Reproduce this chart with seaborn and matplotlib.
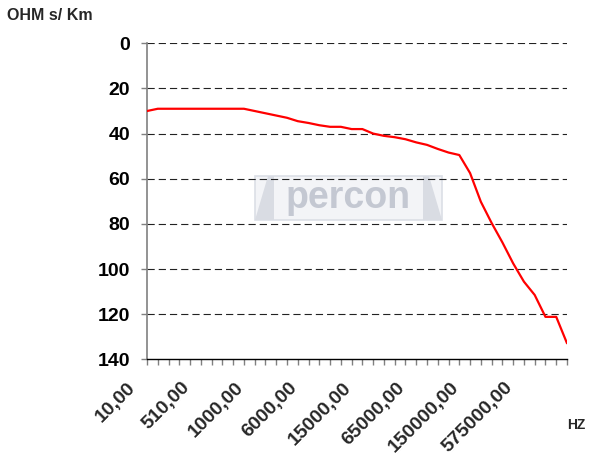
import numpy as np
import pandas as pd
import matplotlib
matplotlib.use("Agg")
import matplotlib.pyplot as plt
import matplotlib.transforms as mtransforms
from matplotlib.patches import Rectangle, Polygon
import seaborn as sns

# ---- data ----
# 40 frequency points; only every 5th point carries a visible label
shown_labels = ["10,00", "510,00", "1000,00", "6000,00", "15000,00",
                "65000,00", "150000,00", "575000,00"]
label_step = 5
ohm_values = [30, 29, 29, 29, 29, 29, 29, 29, 29, 29,
              30, 31, 32, 33, 34.5, 35.3, 36.3, 37, 37, 38,
              38, 40, 41, 41.6, 42.5, 43.9, 45, 46.8, 48.4, 49.5,
              57.5, 70.2, 79.6, 88.2, 97.5, 105.6, 111.5, 121.2, 121.2, 132.9]
y_ticks = [0, 20, 40, 60, 80, 100, 120, 140]
y_label = "OHM s/ Km"
x_label = "HZ"

df = pd.DataFrame({"pos": np.arange(len(ohm_values)), "ohm": ohm_values})

sns.set_theme(style="white")
plt.rcParams["font.family"] = ["Liberation Sans", "DejaVu Sans"]

fig = plt.figure(figsize=(5.89, 4.67), dpi=100)
ax = fig.add_axes([147 / 589, 1 - 359.3 / 467, 420 / 589, 316 / 467])

# gridlines
for yv in y_ticks[:-1]:
    ax.axhline(yv, color="#222222", lw=0.8, ls=(0, (6.5, 3.6)), zorder=1)

# watermark logo
x0, x1 = (255 - 147) / 420, (442 - 147) / 420
y0, y1 = 1 - (220 - 43.3) / 316, 1 - (176 - 43.3) / 316
ax.add_patch(Rectangle((x0, y0), x1 - x0, y1 - y0, transform=ax.transAxes,
                       facecolor="#f3f4f7", edgecolor="#dcdfe6", lw=1.2, zorder=0))
ax.add_patch(Polygon([(x0, y0), (x0 + 0.045, y0), (x0 + 0.045, y1), (x0 + 0.03, y1)],
                     closed=True, transform=ax.transAxes, facecolor="#d9dce3",
                     edgecolor="none", zorder=0))
ax.add_patch(Polygon([(x1, y0), (x1 - 0.045, y0), (x1 - 0.045, y1), (x1 - 0.03, y1)],
                     closed=True, transform=ax.transAxes, facecolor="#d9dce3",
                     edgecolor="none", zorder=0))
ax.text(0.479, 0.51, "percon", transform=ax.transAxes, ha="center", va="center",
        fontsize=27, fontweight="bold", color="#c4c8d2", zorder=0)

sns.lineplot(data=df, x="pos", y="ohm", ax=ax, color="#ff0000", lw=1.6, zorder=3)

ax.set_xlim(0, len(ohm_values) - 1)
ax.set_ylim(140, 0)
ax.set_yticks(y_ticks)
ax.set_yticklabels([str(v) for v in y_ticks], fontsize=14, fontweight="bold")

ax.set_xticks(np.arange(0, len(shown_labels) * label_step, label_step), minor=False)
ax.set_xticks(np.arange(len(ohm_values)), minor=True)
ax.set_xticklabels(shown_labels, fontsize=14, fontweight="bold",
                   rotation=45, ha="right", va="center", rotation_mode="anchor")

ax.tick_params(axis="y", which="major", direction="out", length=4, width=1,
               color="#808080", pad=8, left=True, labelcolor="black")
ax.tick_params(axis="x", which="both", direction="out", length=4.5, width=1,
               color="#808080", bottom=True)
ax.tick_params(axis="x", which="major", pad=14)

offset = mtransforms.ScaledTranslation(-0.14, 0, fig.dpi_scale_trans)
for lab in ax.get_xticklabels():
    lab.set_transform(lab.get_transform() + offset)

for s in ["top", "right"]:
    ax.spines[s].set_visible(False)
ax.spines["left"].set_color("#808080")
ax.spines["left"].set_linewidth(1.2)
ax.spines["bottom"].set_color("black")
ax.spines["bottom"].set_linewidth(1.0)
ax.set_xlabel("")
ax.set_ylabel("")

fig.text(7 / 589, 1 - 15.5 / 467, y_label, fontsize=11.5, fontweight="bold",
         ha="left", va="center")
fig.text(567 / 589, 1 - 425 / 467, x_label, fontsize=10, fontweight="bold",
         ha="left", va="center")

fig.savefig("out.png", dpi=100, facecolor="white")
